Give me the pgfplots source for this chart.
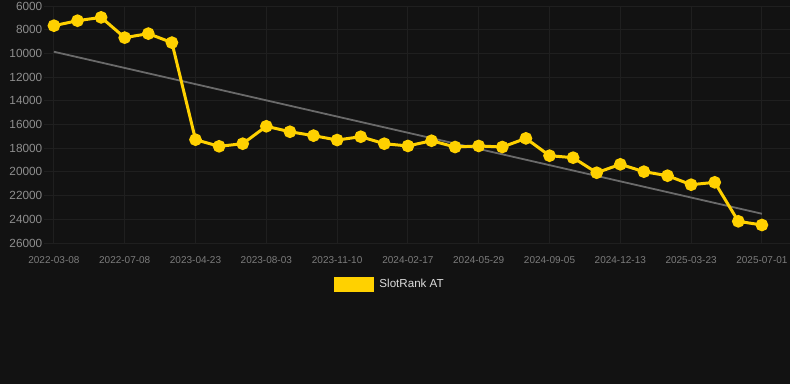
\documentclass[border=0pt]{standalone}
\usepackage{fontspec}
\setmainfont{Liberation Sans}
\usepackage{pgfplots}
\pgfplotsset{compat=1.18}
\definecolor{bg}{HTML}{121212}
\definecolor{gold}{HTML}{FFD100}
\definecolor{gridc}{HTML}{1F1F1F}
\definecolor{ytc}{HTML}{8E8E8E}
\definecolor{xtc}{HTML}{7C7C7C}
\definecolor{trend}{HTML}{6A6A6A}
\definecolor{legtext}{HTML}{DDDDDD}
\begin{document}
\begin{tikzpicture}[x=1pt,y=1pt]
\fill[bg] (0,0) rectangle (790,384);
\useasboundingbox (0,0) rectangle (790,384);
\begin{axis}[
  at={(44pt,141pt)}, anchor=south west,
  scale only axis, width=746pt, height=237pt,
  xmin=-0.42, xmax=31.19, ymin=6000, ymax=26000,
  y dir=reverse,
  ytick={6000,8000,...,26000},
  scaled y ticks=false,
  xtick={0,3,...,30},
  xticklabels={2022-03-08,2022-07-08,2023-04-23,2023-08-03,2023-11-10,2024-02-17,2024-05-29,2024-09-05,2024-12-13,2025-03-23,2025-07-01},
  grid=major,
  major grid style={draw=gridc, line width=1pt},
  axis line style={draw=none},
  major tick length=0pt,
  /pgf/number format/1000 sep={},
  /pgf/number format/assume math mode=true,
  yticklabel style={font=\fontsize{11.8}{12}\selectfont, text=ytc, anchor=east, inner sep=0pt, xshift=-1.5pt, /pgf/number format/fixed, /pgf/number format/precision=0},
  xticklabel style={font=\fontsize{10}{10}\selectfont, text=xtc, anchor=north, inner sep=0pt, yshift=-13pt},
  legend style={at={(axis description cs:0.3887,-0.173)}, anchor=west, draw=none, fill=none, inner sep=0pt, outer sep=0pt,
    nodes={inner sep=0pt, text=legtext, font=\fontsize{11.6}{12}\selectfont}},
  legend image code/.code={\fill[gold] (0pt,-6pt) rectangle (37pt,6pt);},
  clip=false,
]
\addplot[trend, line width=1.8pt, forget plot] coordinates {(0,9860) (30,23530)};
\addplot[gold, line width=3pt, mark=*, mark size=4.8pt, mark options={fill=gold, draw=none}] coordinates {
(0,7660) (1,7240) (2,6960) (3,8670) (4,8330) (5,9090) (6,17280) (7,17840) (8,17620) (9,16150)
(10,16610) (11,16940) (12,17310) (13,17030) (14,17620) (15,17810) (16,17370) (17,17900) (18,17810) (19,17900)
(20,17170) (21,18630) (22,18800) (23,20070) (24,19360) (25,19980) (26,20320) (27,21080) (28,20880) (29,24170) (30,24480)
};
\addlegendentry{\hspace{5.5pt}SlotRank AT}
\end{axis}
\end{tikzpicture}
\end{document}
